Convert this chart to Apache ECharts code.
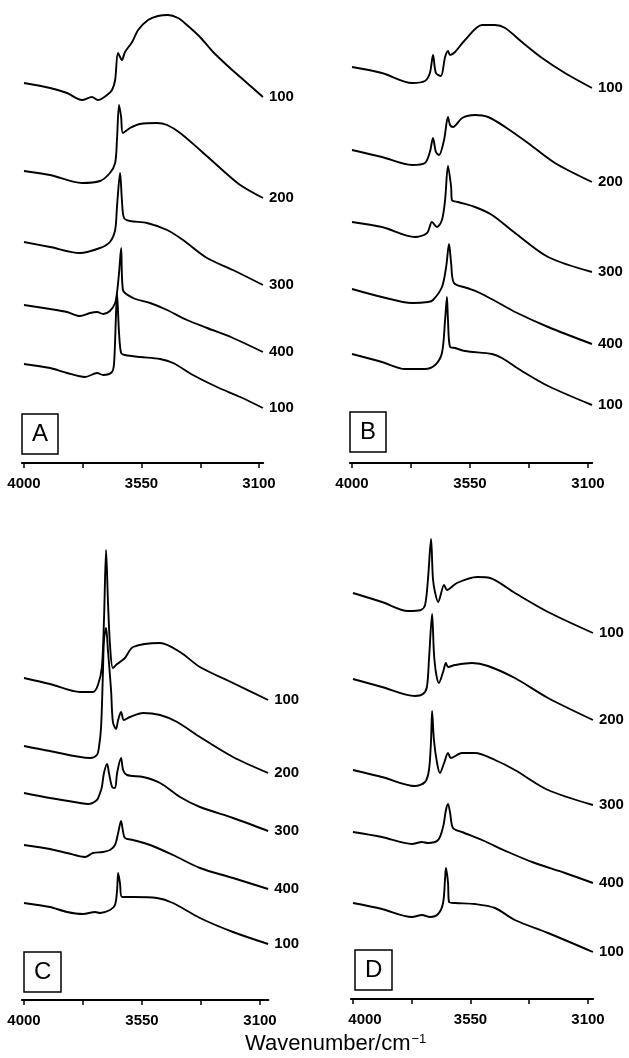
<!DOCTYPE html>
<html>
<head>
<meta charset="utf-8">
<script src="https://cdn.jsdelivr.net/npm/echarts@6/dist/echarts.min.js"></script>
<style>
  html, body { margin: 0; padding: 0; background: #fff; }
  #chart { width: 629px; height: 1058px; }
</style>
</head>
<body>
<div id="chart"></div>
<script>
// tick positions on the wavenumber axis (cm-1)
var tickMarks = [4000, 3775, 3550, 3325, 3100];
var tickLabels = [4000, 3550, 3100];
var traceLabels = ['100', '200', '300', '400', '100'];

// spectra, [wavenumber, intensity a.u.]
var a100 = [[4000,380],[3900,375],[3835,370],[3778,363],[3740,366],[3717,363],[3682,368],[3663,373],[3651,383],[3640,410],[3625,403],[3613,411],[3586,421],[3563,433],[3525,443],[3487,447],[3449,448],[3410,445],[3376,438],[3326,426],[3276,411],[3211,395],[3146,380],[3085,366]];
var a200 = [[4000,292],[3900,288],[3778,280],[3709,282],[3671,290],[3651,300],[3644,323],[3636,358],[3628,346],[3621,330],[3594,335],[3556,339],[3491,340],[3452,338],[3402,330],[3326,313],[3249,295],[3172,278],[3085,265]];
var a300 = [[4000,221],[3900,216],[3786,210],[3709,215],[3671,221],[3651,233],[3644,256],[3632,290],[3625,263],[3617,245],[3594,242],[3529,240],[3452,233],[3391,223],[3299,205],[3200,193],[3085,178]];
var a400 = [[4000,158],[3900,154],[3835,151],[3786,147],[3747,150],[3720,151],[3697,149],[3671,152],[3651,160],[3644,170],[3636,190],[3628,215],[3621,173],[3582,165],[3517,160],[3452,153],[3376,143],[3299,135],[3200,125],[3085,111]];
var a100b = [[4000,99],[3900,95],[3835,90],[3766,86],[3720,90],[3697,88],[3663,91],[3655,100],[3648,146],[3644,170],[3636,130],[3628,110],[3613,108],[3556,106],[3479,104],[3429,100],[3353,88],[3261,76],[3172,66],[3085,55]];

var b100 = [[4000,396],[3886,390],[3771,380],[3722,382],[3703,390],[3691,408],[3680,390],[3661,387],[3645,406],[3634,412],[3626,408],[3607,411],[3569,423],[3504,438],[3455,438],[3416,435],[3352,421],[3275,405],[3188,390],[3085,375]];
var b200 = [[4000,313],[3886,306],[3771,298],[3722,300],[3703,311],[3691,325],[3680,311],[3668,308],[3649,323],[3634,346],[3626,338],[3615,336],[3580,345],[3531,348],[3481,346],[3416,336],[3329,320],[3226,300],[3085,281]];
var b300 = [[4000,241],[3886,236],[3760,226],[3714,230],[3695,241],[3676,236],[3657,243],[3645,263],[3634,297],[3622,276],[3619,263],[3596,261],[3531,256],[3466,248],[3378,230],[3252,206],[3085,191]];
var b400 = [[4000,174],[3886,166],[3771,160],[3710,161],[3691,163],[3657,176],[3641,196],[3630,219],[3622,200],[3611,180],[3561,175],[3512,170],[3447,161],[3378,151],[3252,136],[3085,119]];
var b100b = [[4000,109],[3886,101],[3798,94],[3722,94],[3683,98],[3657,110],[3645,143],[3638,166],[3634,143],[3626,116],[3607,115],[3569,112],[3466,109],[3428,105],[3352,92],[3252,77],[3085,58]];

var c100 = [[4000,322],[3901,316],[3786,308],[3737,308],[3718,315],[3703,333],[3695,380],[3687,450],[3680,400],[3672,355],[3661,332],[3645,336],[3634,338],[3615,342],[3584,353],[3481,357],[3405,348],[3329,333],[3203,317],[3069,300]];
var c200 = [[4000,254],[3901,249],[3748,242],[3722,245],[3714,253],[3706,273],[3699,327],[3695,360],[3687,372],[3680,350],[3668,310],[3661,278],[3649,271],[3641,280],[3630,288],[3619,280],[3596,283],[3546,287],[3481,285],[3416,278],[3329,263],[3203,243],[3069,227]];
var c300 = [[4000,207],[3901,202],[3786,197],[3756,196],[3722,200],[3710,207],[3703,213],[3695,227],[3683,236],[3676,227],[3664,213],[3653,212],[3645,227],[3630,242],[3622,230],[3607,225],[3546,223],[3481,217],[3405,203],[3329,193],[3203,182],[3069,169]];
var c400 = [[4000,155],[3901,151],[3836,147],[3767,143],[3737,147],[3699,148],[3672,150],[3653,155],[3641,167],[3630,179],[3622,168],[3615,162],[3584,160],[3519,155],[3432,145],[3329,132],[3203,122],[3069,111]];
var c100b = [[4000,97],[3901,93],[3836,88],[3775,86],[3729,88],[3710,87],[3672,90],[3653,95],[3645,110],[3641,127],[3634,117],[3626,103],[3584,103],[3493,102],[3432,97],[3329,82],[3203,68],[3069,56]];

var d100 = [[4000,406],[3889,397],[3789,388],[3740,389],[3724,394],[3713,419],[3701,460],[3694,421],[3686,407],[3674,397],[3651,414],[3640,409],[3602,416],[3525,422],[3475,421],[3380,406],[3253,387],[3081,366]];
var d200 = [[4000,320],[3889,312],[3763,303],[3732,305],[3717,312],[3709,339],[3697,385],[3690,346],[3682,326],[3671,316],[3655,327],[3644,336],[3636,332],[3609,334],[3544,336],[3483,333],[3380,321],[3253,301],[3081,279]];
var d300 = [[4000,229],[3889,222],[3763,213],[3724,217],[3709,229],[3701,259],[3697,288],[3690,259],[3678,236],[3667,226],[3651,236],[3636,246],[3625,241],[3583,246],[3533,246],[3456,239],[3380,229],[3253,209],[3081,194]];
var d400 = [[4000,167],[3889,162],[3774,155],[3736,157],[3713,156],[3674,159],[3655,172],[3644,189],[3636,195],[3628,186],[3617,171],[3583,167],[3506,159],[3406,147],[3314,137],[3188,126],[3081,116]];
var d100b = [[4000,96],[3889,90],[3774,82],[3736,84],[3705,82],[3674,85],[3655,96],[3647,122],[3644,131],[3636,116],[3632,97],[3609,96],[3533,95],[3456,91],[3380,79],[3253,66],[3081,47]];

var INK = '#000';
var FONT = '"Liberation Sans", Arial, Helvetica, sans-serif';
var tickFont = { color: INK, fontWeight: 'bold', fontSize: 15, fontFamily: FONT };

// panel layout (pixels) and x range of each frame; shift4000 nudges the first tick label
var panels = [
  { name: 'A', traces: [a100, a200, a300, a400, a100b], left: 21.9, right: 365.8, top: 3, bottom: 595, xMin: 3084, box: [22, 414], shift4000: 0 },
  { name: 'B', traces: [b100, b200, b300, b400, b100b], left: 349.9, right: 36.8, top: 3, bottom: 595, xMin: 3084, box: [350, 412], shift4000: 0 },
  { name: 'C', traces: [c100, c200, c300, c400, c100b], left: 21.9, right: 360.6, top: 540, bottom: 58, xMin: 3068, box: [24, 952], shift4000: 0 },
  { name: 'D', traces: [d100, d200, d300, d400, d100b], left: 350.9, right: 35.8, top: 539, bottom: 59, xMin: 3080, box: [355, 950], shift4000: 24 }
];

var grids = [], xAxes = [], yAxes = [], series = [], titles = [];

panels.forEach(function (p, i) {
  grids.push({ left: p.left, right: p.right, top: p.top, bottom: p.bottom });
  xAxes.push({
    type: 'value', gridIndex: i, min: p.xMin, max: 4008, inverse: true,
    splitLine: { show: false },
    axisLine: { onZero: false, lineStyle: { color: INK, width: 2 } },
    axisTick: { show: true, customValues: tickMarks, length: 5, lineStyle: { color: INK, width: 1.5 } },
    axisLabel: Object.assign({
      customValues: tickLabels, margin: 13,
      formatter: function (v) {
        return (v === 4000 && p.shift4000) ? '{s|' + v + '}' : String(v);
      },
      rich: { s: Object.assign({ padding: [0, 0, 0, p.shift4000] }, tickFont) }
    }, tickFont)
  });
  yAxes.push({ type: 'value', gridIndex: i, min: 0, max: 460, show: false });

  p.traces.forEach(function (tr, j) {
    series.push({
      type: 'line', xAxisIndex: i, yAxisIndex: i, data: tr,
      showSymbol: false, symbol: 'none', smooth: 0.3, clip: false, silent: true,
      lineStyle: { color: INK, width: 1.9 },
      markPoint: {
        symbol: 'circle', symbolSize: 0, silent: true,
        label: Object.assign({ show: true, position: 'right', distance: 6, formatter: traceLabels[j] }, tickFont),
        data: [{ coord: tr[tr.length - 1] }]
      }
    });
  });

  titles.push({
    text: p.name, left: p.box[0], top: p.box[1],
    borderColor: INK, borderWidth: 1.5, padding: [8, 10, 8, 10],
    textStyle: { color: INK, fontSize: 24, fontWeight: 'normal', fontFamily: FONT, lineHeight: 24 }
  });
});

titles.push({
  text: '{a|Wavenumber/cm}{b|−1}', left: 240, top: 1028,
  textStyle: {
    fontWeight: 'normal',
    rich: {
      a: { fontSize: 22, fontWeight: 'normal', color: INK, fontFamily: FONT },
      b: { fontSize: 13, fontWeight: 'normal', color: INK, fontFamily: FONT, padding: [0, 0, 9, 1] }
    }
  }
});

var chart = echarts.init(document.getElementById('chart'), null, { renderer: 'canvas' });
chart.setOption({
  animation: false,
  backgroundColor: '#fff',
  title: titles,
  grid: grids,
  xAxis: xAxes,
  yAxis: yAxes,
  series: series
});
</script>
</body>
</html>
